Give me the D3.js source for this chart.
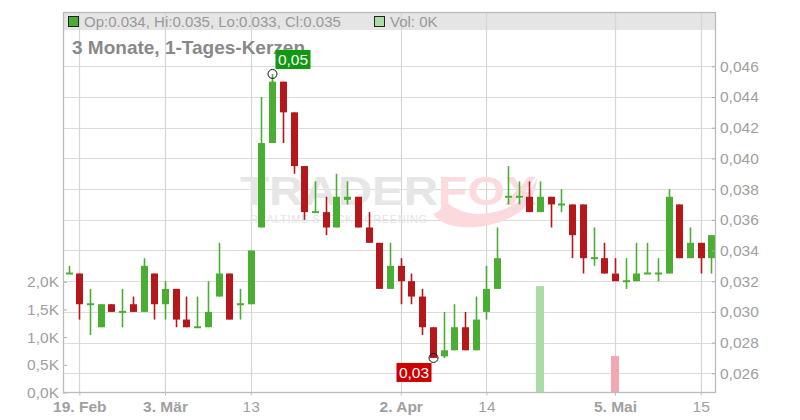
<!DOCTYPE html>
<html><head><meta charset="utf-8">
<script src="https://cdn.jsdelivr.net/npm/d3@7"></script>
<style>
html,body{margin:0;padding:0;background:#fff;}
svg{display:block;font-family:"Liberation Sans",Arial,sans-serif;}
</style></head>
<body><svg id="c" width="800" height="420"></svg>
<script>
// ---- data ----
const dates = ["2025-02-18","2025-02-19","2025-02-20","2025-02-21","2025-02-24","2025-02-25","2025-02-26","2025-02-27","2025-02-28",
"2025-03-03","2025-03-04","2025-03-05","2025-03-06","2025-03-07","2025-03-10","2025-03-11","2025-03-12","2025-03-13","2025-03-14",
"2025-03-17","2025-03-18","2025-03-19","2025-03-20","2025-03-21","2025-03-24","2025-03-25","2025-03-26","2025-03-27","2025-03-28",
"2025-03-31","2025-04-01","2025-04-02","2025-04-03","2025-04-04","2025-04-07","2025-04-08","2025-04-09","2025-04-10","2025-04-11",
"2025-04-14","2025-04-15","2025-04-16","2025-04-17","2025-04-22","2025-04-23","2025-04-24","2025-04-25","2025-04-28","2025-04-29",
"2025-04-30","2025-05-02","2025-05-05","2025-05-06","2025-05-07","2025-05-08","2025-05-09","2025-05-12","2025-05-13","2025-05-14",
"2025-05-15","2025-05-16"];
const open  = [0.0325,0.0325,0.0305,0.029,0.0305,0.030,0.0305,0.030,0.0325,
0.0305,0.0315,0.0295,0.029,0.029,0.031,0.0325,0.0305,0.0305,0.0355,
0.041,0.045,0.043,0.0395,0.0365,0.0365,0.0355,0.0373,0.0375,0.0355,
0.0345,0.0315,0.033,0.032,0.031,0.029,0.0271,0.0275,0.029,0.0275,
0.030,0.0315,0.0375,0.0375,0.0375,0.0365,0.0375,0.037,0.037,0.037,
0.0335,0.0335,0.0325,0.032,0.032,0.0325,0.0325,0.0325,0.037,0.0335,
0.0345,0.0335];
const high  = [0.033,0.0325,0.0315,0.0305,0.0305,0.0315,0.031,0.0335,0.0325,
0.032,0.0315,0.031,0.031,0.032,0.0345,0.0325,0.0315,0.034,0.044,
0.0455,0.045,0.043,0.0395,0.0385,0.0375,0.039,0.0385,0.0375,0.0365,
0.0345,0.0345,0.0335,0.0325,0.0315,0.029,0.030,0.0305,0.030,0.031,
0.033,0.0355,0.0395,0.0385,0.0385,0.0385,0.0375,0.038,0.037,0.037,
0.0355,0.0345,0.0335,0.0335,0.0345,0.0345,0.0335,0.038,0.037,0.0355,
0.0345,0.035];
const low   = [0.0325,0.0295,0.0285,0.029,0.030,0.029,0.030,0.030,0.0295,
0.0295,0.029,0.029,0.029,0.029,0.031,0.0295,0.0295,0.0305,0.0355,
0.041,0.041,0.039,0.036,0.0365,0.035,0.0355,0.037,0.0355,0.0345,
0.0315,0.0315,0.0305,0.0305,0.0285,0.027,0.027,0.0275,0.0275,0.0275,
0.0295,0.0315,0.037,0.037,0.0365,0.0365,0.0355,0.0365,0.0335,0.0325,
0.033,0.0325,0.0325,0.0315,0.032,0.0325,0.032,0.0325,0.0335,0.0335,
0.0325,0.0325];
const close = [0.0325,0.0305,0.0305,0.0305,0.030,0.030,0.030,0.033,0.0305,
0.0315,0.0295,0.029,0.029,0.030,0.0325,0.0295,0.0305,0.034,0.041,
0.045,0.043,0.0395,0.0365,0.0365,0.0355,0.0375,0.0375,0.0355,0.0345,
0.0315,0.033,0.032,0.031,0.029,0.027,0.0275,0.029,0.0275,0.0295,
0.0315,0.0335,0.0375,0.0375,0.0365,0.0375,0.037,0.037,0.035,0.0335,
0.0335,0.0325,0.032,0.032,0.0325,0.0325,0.0325,0.0375,0.0335,0.0345,
0.0335,0.035];
const volume = dates.map(d => d === "2025-04-23" ? 1920 : d === "2025-05-05" ? 660 : 0);
const xTickDates  = ["2025-02-19","2025-03-03","2025-03-13","2025-04-02","2025-04-14","2025-05-05","2025-05-15"];
const xTickLabels = ["19. Feb","3. Mär","13","2. Apr","14","5. Mai","15"];
const priceTicks  = [0.026,0.028,0.030,0.032,0.034,0.036,0.038,0.040,0.042,0.044,0.046];
const volTicks    = [0,500,1000,1500,2000];
const title = "3 Monate, 1-Tages-Kerzen";

// ---- layout ----
const L = 63, R = 716, T = 12, B = 392.5;
const GREEN = "#4aae32", RED = "#b5171a";
const svg = d3.select("#c");
const x = d3.scaleLinear().domain([0, dates.length - 1]).range([68.6, 711.4]);
const y = d3.scaleLinear().domain([0.026, 0.046]).range([373.3, 66.3]);
const yv = d3.scaleLinear().domain([0, 2000]).range([B, 281.7]);
const tickIdx = xTickDates.map(d => dates.indexOf(d));

// legend band
svg.append("rect").attr("x", L).attr("y", T).attr("width", R - L).attr("height", 18).attr("fill", "#e5e5e5");

// grid
const g = svg.append("g");
g.selectAll(".hg").data(priceTicks).join("line")
  .attr("x1", L).attr("x2", R).attr("y1", d => Math.round(y(d)) + 0.5).attr("y2", d => Math.round(y(d)) + 0.5)
  .attr("stroke", "#dcdcdc").attr("stroke-width", 1.2);
g.selectAll(".vg").data(tickIdx).join("line")
  .attr("y1", T).attr("y2", B).attr("x1", d => Math.round(x(d)) + 0.5).attr("x2", d => Math.round(x(d)) + 0.5)
  .attr("stroke", "#d6d6d6").attr("stroke-width", 1.2);

// watermark
const wm = svg.append("g");
wm.append("path")
  .attr("d", "M433,214 C445,232 490,232 520,212 C530,204 536,192 537,178 C528,200 505,214 478,214 C462,214 448,205 440,196 C445,206 440,212 433,214 Z")
  .attr("fill", "#fbd9dc");
wm.append("text").attr("x", 240).attr("y", 205).attr("font-size", 40).attr("font-weight", "bold")
  .attr("textLength", 198).attr("lengthAdjust", "spacingAndGlyphs").attr("fill", "#e6e6e6").text("TRADER");
wm.append("text").attr("x", 438).attr("y", 205).attr("font-size", 40).attr("font-weight", "bold")
  .attr("textLength", 99).attr("lengthAdjust", "spacingAndGlyphs").attr("fill", "#fcdadd").text("FOX");
wm.append("text").attr("x", 250).attr("y", 223).attr("font-size", 11)
  .attr("textLength", 177).attr("lengthAdjust", "spacing").attr("fill", "#e4e4e4").text("REALTIME STOCK SCREENING");

// volume bars
svg.append("g").selectAll("rect").data(d3.range(dates.length).filter(i => volume[i] > 0)).join("rect")
  .attr("x", i => x(i) - 4).attr("width", 8)
  .attr("y", i => yv(volume[i])).attr("height", i => B - yv(volume[i]))
  .attr("fill", i => close[i] >= open[i] ? "#a9dca6" : "#f0a8b2");

// candles
const cg = svg.append("g");
d3.range(dates.length).forEach(i => {
  const col = close[i] >= open[i] ? GREEN : RED;
  const cx = Math.round(x(i)) + 0.5;
  cg.append("line").attr("x1", cx).attr("x2", cx).attr("y1", y(high[i])).attr("y2", y(low[i]))
    .attr("stroke", col).attr("stroke-width", 1.6);
  const top = y(Math.max(open[i], close[i])), bot = y(Math.min(open[i], close[i]));
  const h = Math.max(2, bot - top);
  cg.append("rect").attr("x", cx - 3.5).attr("width", 7)
    .attr("y", h === 2 ? top - 1 : top).attr("height", h).attr("fill", col);
});

// frame / axes
const xAxis = d3.axisBottom(x).tickValues(tickIdx).tickFormat((d, k) => xTickLabels[k]).tickSizeInner(3).tickSizeOuter(0).tickPadding(5);
const ax = svg.append("g").attr("transform", `translate(0,${B})`).call(xAxis);
ax.select(".domain").remove();
ax.selectAll(".tick line").attr("stroke", "#bbb");
ax.selectAll("text").attr("font-size", 15.5).attr("fill", "#a0a0a0").attr("font-family", "Liberation Sans, Arial, sans-serif")
  .attr("font-weight", (d, k) => /[A-Za-zä]/.test(xTickLabels[k]) ? "bold" : "normal");

const pAxis = d3.axisRight(y).tickValues(priceTicks).tickFormat(d => d3.format(".3f")(d).replace(".", ",")).tickSizeInner(-4).tickSizeOuter(0).tickPadding(4);
const pa = svg.append("g").attr("transform", `translate(${R},0)`).call(pAxis);
pa.select(".domain").remove();
pa.selectAll(".tick line").attr("stroke", "#aaa");
pa.selectAll("text").attr("font-size", 15.5).attr("fill", "#a0a0a0").attr("font-family", "Liberation Sans, Arial, sans-serif");

const vAxis = d3.axisLeft(yv).tickValues(volTicks).tickFormat(d => (d / 1000).toFixed(1).replace(".", ",") + "K").tickSizeInner(-4).tickSizeOuter(0).tickPadding(4);
const va = svg.append("g").attr("transform", `translate(${L},0)`).call(vAxis);
va.select(".domain").remove();
va.selectAll(".tick line").attr("stroke", "#aaa");
va.selectAll("text").attr("font-size", 15.5).attr("fill", "#a0a0a0").attr("font-family", "Liberation Sans, Arial, sans-serif");

svg.append("rect").attr("x", L + 0.5).attr("y", T + 0.5).attr("width", R - L - 1).attr("height", B - T - 0.5)
  .attr("fill", "none").attr("stroke", "#bbb").attr("stroke-width", 1.3);

// legend
const last = dates.length - 1;
const lg = svg.append("g").attr("font-size", 15).attr("fill", "#999");
lg.append("rect").attr("x", 68.5).attr("y", 16.5).attr("width", 10).attr("height", 10).attr("fill", GREEN).attr("stroke", "#222");
lg.append("text").attr("x", 84).attr("y", 27)
  .text(`Op:${open[last].toFixed(3)}, Hi:${high[last].toFixed(3)}, Lo:${low[last].toFixed(3)}, Cl:${close[last].toFixed(3)}`);
lg.append("rect").attr("x", 374.5).attr("y", 16.5).attr("width", 10).attr("height", 10).attr("fill", "#a9dca6").attr("stroke", "#222");
lg.append("text").attr("x", 390).attr("y", 27).text(`Vol: ${(volume[last] / 1000).toFixed(0)}K`);

// title
svg.append("text").attr("x", 72).attr("y", 54).attr("font-size", 19).attr("font-weight", "bold").attr("fill", "#888").text(title);

// hi / lo markers
const hiI = d3.maxIndex(high), loI = d3.minIndex(low);
const fmt2 = v => v.toFixed(2).replace(".", ",");
function marker(i, v, isHigh) {
  const cx = Math.round(x(i)) + 0.5, cy = y(v);
  svg.append("circle").attr("cx", cx).attr("cy", cy).attr("r", 4.5).attr("fill", "none").attr("stroke", "#111").attr("stroke-width", 1);
  const w = 35, h = 19;
  const bx = isHigh ? cx + 3 : cx - 2 - w;
  const by = isHigh ? cy - 5 - h : cy + 5;
  svg.append("rect").attr("x", bx).attr("y", by).attr("width", w).attr("height", h).attr("fill", isHigh ? "#0e9a0e" : "#cc0000");
  svg.append("text").attr("x", bx + w / 2).attr("y", by + 15).attr("text-anchor", "middle").attr("font-size", 15.5)
    .attr("fill", "#fff").text(fmt2(v));
}
marker(hiI, high[hiI], true);
marker(loI, low[loI], false);
</script></body></html>
